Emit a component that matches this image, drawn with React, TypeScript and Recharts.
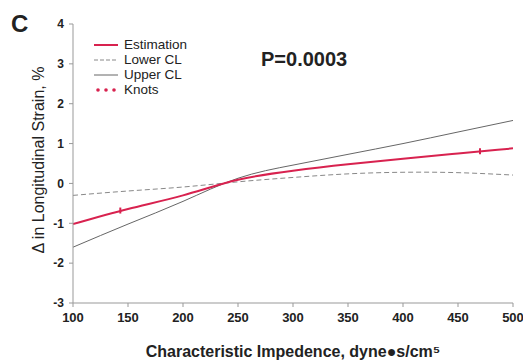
import { ComposedChart, Line, Scatter, XAxis, YAxis } from 'recharts';

const impedance = [100, 150, 200, 250, 300, 350, 400, 450, 500];
const estimation = [-1.02, -0.64, -0.3, 0.09, 0.32, 0.48, 0.62, 0.75, 0.88];
const lowerCL = [-0.3, -0.19, -0.09, 0.04, 0.15, 0.24, 0.28, 0.27, 0.21];
const upperCL = [-1.6, -1.02, -0.45, 0.13, 0.46, 0.73, 1.0, 1.29, 1.58];
const knotX = [143, 470];
const knotY = [-0.68, 0.81];
const xTicks = [100, 150, 200, 250, 300, 350, 400, 450, 500];
const yTicks = [-3, -2, -1, 0, 1, 2, 3, 4];

const data = impedance.map((x, i) => ({
  x,
  estimation: estimation[i],
  lower: lowerCL[i],
  upper: upperCL[i],
}));
const knots = knotX.map((x, i) => ({ x, knot: knotY[i] }));

const RED = '#d8224f';
const FONT = '"Liberation Sans", Arial, sans-serif';

function LegendBox() {
  const rows = [
    { name: 'Estimation', kind: 'est' },
    { name: 'Lower CL', kind: 'lower' },
    { name: 'Upper CL', kind: 'upper' },
    { name: 'Knots', kind: 'knot' },
  ];
  return (
    <div style={{ fontFamily: FONT, fontSize: 13.5, color: '#222', lineHeight: '15px' }}>
      {rows.map((r) => (
        <div key={r.name} style={{ display: 'flex', alignItems: 'center', height: 15 }}>
          <svg width={26} height={10} style={{ marginRight: 4 }}>
            {r.kind === 'est' && <line x1={0} y1={5} x2={24} y2={5} stroke={RED} strokeWidth={2} />}
            {r.kind === 'lower' && <line x1={0} y1={5} x2={24} y2={5} stroke="#888" strokeWidth={1} strokeDasharray="4 2" />}
            {r.kind === 'upper' && <line x1={0} y1={5} x2={24} y2={5} stroke="#666" strokeWidth={1} />}
            {r.kind === 'knot' && [4, 12, 20].map((cx) => <circle key={cx} cx={cx} cy={5} r={1.8} fill={RED} />)}
          </svg>
          <span>{r.name}</span>
        </div>
      ))}
    </div>
  );
}

const KnotMark = (props: any) => {
  const { cx, cy } = props;
  return <line x1={cx} y1={cy - 3} x2={cx} y2={cy + 3} stroke={RED} strokeWidth={2} />;
};

const YTitle = () => (
  <text
    x={0}
    y={0}
    transform="translate(38,160) rotate(-90)"
    textAnchor="middle"
    dominantBaseline="central"
    style={{ fontSize: 16, fill: '#222', fontFamily: FONT }}
  >
    {'\u0394 in Longitudinal Strain, %'}
  </text>
);

export default function App() {
  const tick = { fontSize: 12, fontWeight: 700, fill: '#222', fontFamily: FONT };
  return (
    <div style={{ position: 'absolute', left: 0, top: 0, width: 523, height: 360, background: '#fff' }}>
      <ComposedChart width={523} height={360} data={data} margin={{ top: 24, right: 10, left: 0, bottom: 0 }}>
        <XAxis
          dataKey="x"
          type="number"
          domain={[100, 500]}
          ticks={xTicks}
          stroke="#999"
          tickSize={4}
          tickMargin={6}
          tick={{ ...tick, fontSize: 13 }}
          height={57}
          allowDataOverflow
          label={{ value: 'Characteristic Impedence, dyne\u25CFs/cm\u2075', position: 'insideBottom', offset: 3, style: { fontSize: 16, fontWeight: 700, fill: '#222', fontFamily: FONT } }}
        />
        <YAxis
          type="number"
          domain={[-3, 4]}
          ticks={yTicks}
          stroke="#999"
          tickSize={4}
          tickMargin={5}
          tick={tick}
          width={73}
          label={<YTitle />}
        />
        <Line type="natural" dataKey="lower" name="Lower CL" stroke="#888" strokeWidth={1} strokeDasharray="5 3" dot={false} isAnimationActive={false} />
        <Line type="natural" dataKey="upper" name="Upper CL" stroke="#666" strokeWidth={1} dot={false} isAnimationActive={false} />
        <Line type="natural" dataKey="estimation" name="Estimation" stroke={RED} strokeWidth={2} dot={false} isAnimationActive={false} />
        <Scatter data={knots} dataKey="knot" name="Knots" fill={RED} shape={<KnotMark />} isAnimationActive={false} />
      </ComposedChart>
      <div style={{ position: 'absolute', left: 11, top: 10, fontFamily: FONT, fontWeight: 700, fontSize: 24, color: '#222' }}>C</div>
      <div style={{ position: 'absolute', left: 261, top: 48, fontFamily: FONT, fontWeight: 700, fontSize: 20, color: '#222' }}>P=0.0003</div>
      <div style={{ position: 'absolute', left: 94, top: 37 }}>
        <LegendBox />
      </div>
    </div>
  );
}
